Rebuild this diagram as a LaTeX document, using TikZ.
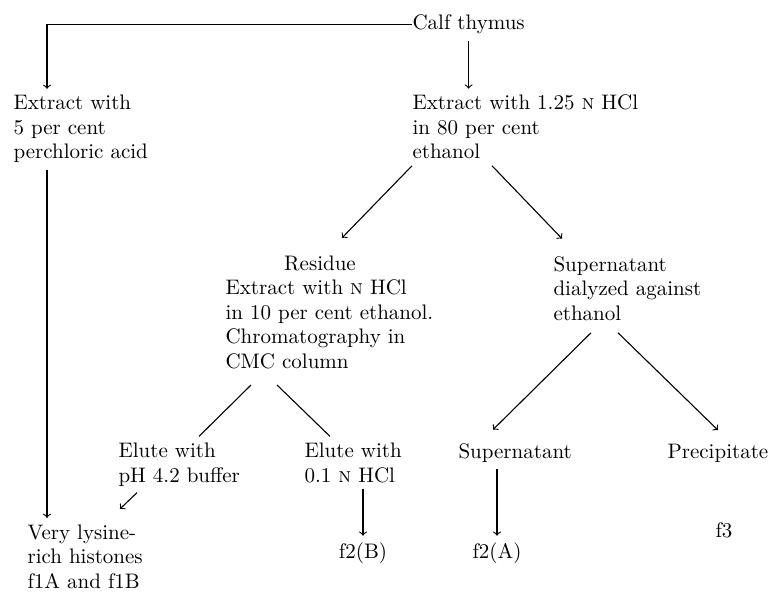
\documentclass[tikz,border=0pt]{standalone}
\usepackage{fontspec}
\usetikzlibrary{positioning}

\begin{document}
\begin{tikzpicture}
[every node/.style={font=\fontsize{10.5}{12.25}\selectfont,align=left,inner xsep=0pt,inner ysep=3pt,anchor=base west},x=0.5pt,y=-0.5pt,line width=0.55pt]
\useasboundingbox (0,0) rectangle (769,593);

% multi-line nodes sit on the baseline of their last line
\node (Calf) at (412,30) {Calf thymus};
\node (ExtractPCA) at (13,159) {Extract with\\5 per cent\\perchloric acid};
\node (ExtractHCl) at (412,159) {Extract with 1.25 \textsc{n} HCl\\in 80 per cent\\ethanol};
\node[anchor=base] (Residue) at (320,270) {Residue};
\node (ExtractCMC) at (225,368) {Extract with \textsc{n} HCl\\in 10 per cent ethanol.\\Chromatography in\\CMC column};
\node (SupDial) at (553,320) {Supernatant\\dialyzed against\\ethanol};
\node (EluteA) at (118,482) {Elute with\\pH 4.2 buffer};
\node (EluteB) at (304,482) {Elute with\\0.1 \textsc{n} HCl};
\node (SupA) at (458,458) {Supernatant};
\node (Precip) at (667,458) {Precipitate};
\node (Lysine) at (27,588) {Very lysine-\\rich histones\\f1A and f1B};
\node[anchor=base] (FtwoB) at (363,558) {f2(B)};
\node[anchor=base] (FtwoA) at (497,558) {f2(A)};
\node[anchor=base] (Fthree) at (724,537) {f3};
\coordinate (bendL) at (47,23);

\draw[->] (Calf.west) -| (bendL |- ExtractPCA.north);
\path[->] (Calf.south) edge (Calf.south |- ExtractHCl.north)
	(bendL |- ExtractPCA.south) edge (bendL |- Lysine.north)
	(ExtractHCl.south west) edge ([xshift=11pt,yshift=5.5pt]Residue.north)
	([xshift=40pt]ExtractHCl.south west) edge ([xshift=4.5pt,yshift=5.5pt]SupDial.north west)
	([xshift=9.5pt]EluteA.south west) edge ([xshift=46.5pt,yshift=4.5pt]Lysine.north west)
	(FtwoB.north |- EluteB.south) edge (FtwoB.north)
	([xshift=19pt,yshift=-3pt]SupDial.south west) edge ([xshift=17.5pt,yshift=3.5pt]SupA.north west)
	([xshift=32.5pt,yshift=-3pt]SupDial.south west) edge ([yshift=3.5pt]Precip.north)
	(FtwoA.north |- SupA.south) edge (FtwoA.north);
\draw ([xshift=13pt,yshift=-5pt]ExtractCMC.south west) -- ([xshift=40.5pt]EluteA.north west);
\draw ([xshift=26pt,yshift=-5pt]ExtractCMC.south west) -- ([xshift=13pt]EluteB.north west);

\end{tikzpicture}
\end{document}
